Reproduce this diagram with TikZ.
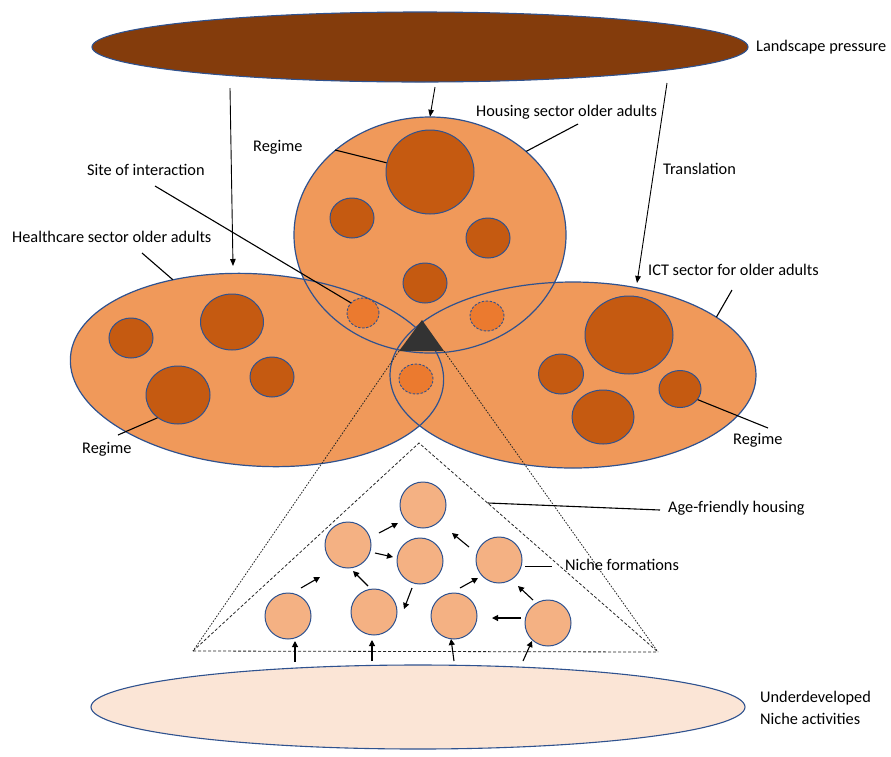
\documentclass[tikz,border=0pt]{standalone}
\usepackage{fontspec}
\setmainfont{Carlito}
\usetikzlibrary{shapes.geometric,arrows.meta,calc}
\definecolor{rim}{HTML}{2F528F}
\definecolor{landfill}{HTML}{843C0C}
\definecolor{sectorfill}{HTML}{F0995A}
\definecolor{regimefill}{HTML}{C55A11}
\definecolor{sitefill}{HTML}{EB7A2F}
\definecolor{nichefill}{HTML}{F4B183}
\definecolor{basefill}{HTML}{FBE5D6}
\definecolor{apexfill}{HTML}{333333}
\begin{document}
\begin{tikzpicture}[x=1pt,y=-1pt,
  lbl/.style={anchor=west,inner sep=0pt,font=\fontsize{16.3}{19.5}\selectfont},
  sector/.style={ellipse,fill=sectorfill,inner sep=0pt},
  blob/.style={ellipse,draw=rim,line width=1pt,fill=regimefill,inner sep=0pt},
  site/.style={ellipse,draw=rim,line width=0.9pt,dash pattern=on 2.5pt off 1.5pt,fill=sitefill,inner sep=0pt},
  niche/.style={circle,draw=rim,line width=1pt,fill=nichefill,inner sep=0pt,minimum size=46pt},
  leader/.style={draw=black,line width=1.1pt},
  pressarrow/.style={draw=black,line width=0.9pt,-{Triangle[length=7pt,width=5.5pt]}},
  flowarrow/.style={draw=black,line width=1.1pt,-{Triangle[length=6pt,width=6pt]}},
  finedash/.style={draw=black!85,line width=0.8pt,dash pattern=on 1.6pt off 1.4pt},
  coarsedash/.style={draw=black!85,line width=0.8pt,dash pattern=on 3pt off 2pt}]
\useasboundingbox (0,0) rectangle (891,756);

% landscape level
\node[ellipse,draw=rim,line width=1.1pt,fill=landfill,inner sep=0pt,
      minimum width=656pt,minimum height=70pt] (land) at (420,47) {};
\node[lbl] (landlbl) at (756,47) {Landscape pressure};

% niche level base
\node[ellipse,draw=rim,line width=1.1pt,fill=basefill,inner sep=0pt,
      minimum width=654pt,minimum height=84pt] (base) at (418,707) {};
\node[lbl] (baselbl1) at (760,698) {Underdeveloped};
\node[lbl] (baselbl2) at (760,719) {Niche activities};

% three sector regimes: fills first, rims on top so every overlap shows
\node[sector,minimum width=272pt,minimum height=236pt] (hs) at (430,235) {};
\node[sector,minimum width=374pt,minimum height=192pt,rotate=-4] (hc) at (257,370) {};
\node[sector,minimum width=366pt,minimum height=186pt] (ict) at (573,375) {};
\draw[rim,line width=1.2pt] (hs.center) ellipse [x radius=136pt,y radius=118pt];
\draw[rim,line width=1.2pt,rotate around={-4:(hc.center)}] (hc.center) ellipse [x radius=187pt,y radius=96pt];
\draw[rim,line width=1.2pt] (ict.center) ellipse [x radius=183pt,y radius=93pt];

% regime blobs
\node[blob,minimum width=88pt,minimum height=84pt] (h1) at (430,172) {};
\node[blob,minimum width=44pt,minimum height=40pt] (h2) at (352,218) {};
\node[blob,minimum width=44pt,minimum height=40pt] (h3) at (488,238) {};
\node[blob,minimum width=44pt,minimum height=40pt] (h4) at (425,283) {};
\node[blob,minimum width=44pt,minimum height=40pt] (c1) at (131,338) {};
\node[blob,minimum width=63pt,minimum height=56pt] (c2) at (232,322) {};
\node[blob,minimum width=44pt,minimum height=40pt] (c3) at (272,377) {};
\node[blob,minimum width=64pt,minimum height=58pt] (c4) at (178,395) {};
\node[blob,minimum width=88pt,minimum height=78pt] (i1) at (629,335) {};
\node[blob,minimum width=45pt,minimum height=40pt] (i2) at (561,374) {};
\node[blob,minimum width=62pt,minimum height=54pt] (i3) at (603,417) {};
\node[blob,minimum width=42pt,minimum height=37pt] (i4) at (680,389) {};

% sites of interaction
\node[site,minimum width=32pt,minimum height=30pt] (s1) at (363,313) {};
\node[site,minimum width=34pt,minimum height=30pt] (s2) at (487,316) {};
\node[site,minimum width=34pt,minimum height=30pt] (s3) at (416,379) {};

% shared core
\coordinate (tA) at (422,320);
\coordinate (tL) at (399,351);
\coordinate (tR) at (444,351);
\fill[apexfill] (tA) -- (tL) -- (tR) -- cycle;

% zoomed niche space
\coordinate (bL) at (193,651);
\coordinate (bR) at (658,652);
\coordinate (nA) at (419,443);
\draw[finedash] (tL) -- (bL);
\draw[finedash] (tR) -- (bR);
\draw[coarsedash] (bL) -- (nA) -- (bR);
\draw[coarsedash] (bL) -- (bR);

% landscape pressure arrows
\coordinate (p1) at (230,88);
\coordinate (p2) at (435,87);
\coordinate (p3) at (667,83);
\coordinate (q1) at (233,266);
\coordinate (q3) at (637,283);
\draw[pressarrow] (p1) -- (q1);
\draw[pressarrow] (p2) -- (hs.north);
\draw[pressarrow] (p3) -- (q3);
\node[lbl] (translbl) at (663,169) {Translation};

% labels and leaders
\node[lbl] (hslbl) at (476,112) {Housing sector older adults};
\coordinate (hsl) at (578,124);
\draw[leader] (hsl) -- (hs.41);
\node[lbl] (reg1) at (253,147) {Regime};
\coordinate (r1l) at (335,150);
\draw[leader] (r1l) -- (h1.168);
\node[lbl] (sitelbl) at (87,170) {Site of interaction};
\coordinate (sil) at (155,186);
\draw[leader] (sil) -- (s1.140);
\node[lbl] (hclbl) at (12,237) {Healthcare sector older adults};
\coordinate (hcl) at (142,253);
\draw[leader] (hcl) -- (hc.137);
\node[lbl] (reg2) at (82,449) {Regime};
\coordinate (r2l) at (118,435);
\draw[leader] (r2l) -- (c4.228);
\node[lbl] (ictlbl) at (648,270) {ICT sector for older adults};
\coordinate (ictl) at (732,290);
\draw[leader] (ictl) -- (ict.22);
\node[lbl] (reg3) at (733,440) {Regime};
\coordinate (r3l) at (768,428);
\draw[leader] (r3l) -- (i4.-31);

% niche formations
\node[niche] (n1) at (423,505) {};
\node[niche] (n2) at (348,545) {};
\node[niche] (n3) at (420,561) {};
\node[niche] (n4) at (499,560) {};
\node[niche] (n5) at (288,616) {};
\node[niche] (n6) at (374,612) {};
\node[niche] (n7) at (454,616) {};
\node[niche] (n8) at (548,623) {};

\draw[flowarrow] (301,588) -- (320,577);
\draw[flowarrow] (379,533) -- (398,523);
\draw[flowarrow] (375,553) -- (393,557);
\draw[flowarrow] (368,586) -- (353,571);
\draw[flowarrow] (412,588) -- (404,609);
\draw[flowarrow] (469,547) -- (452,533);
\draw[flowarrow] (460,588) -- (478,578);
\draw[flowarrow] (533,600) -- (518,586);
\draw[flowarrow] (521,618) -- (492,618);
\draw[flowarrow] (295,662) -- (295,641);
\draw[flowarrow] (372,661) -- (372,640);
\draw[flowarrow] (454,661) -- (451,639);
\draw[flowarrow] (523,661) -- (532,641);

\node[lbl] (agelbl) at (668,508) {Age-friendly housing};
\coordinate (agel) at ($(nA)!0.287!(bR)$);
\coordinate (ager) at (660,510);
\draw[leader] (agel) -- (ager);
\node[lbl] (nichelbl) at (565,565) {Niche formations};
\coordinate (nfl) at (525,566);
\coordinate (nfr) at (552,566);
\draw[leader,line width=0.9pt] (nfl) -- (nfr);
\end{tikzpicture}
\end{document}
